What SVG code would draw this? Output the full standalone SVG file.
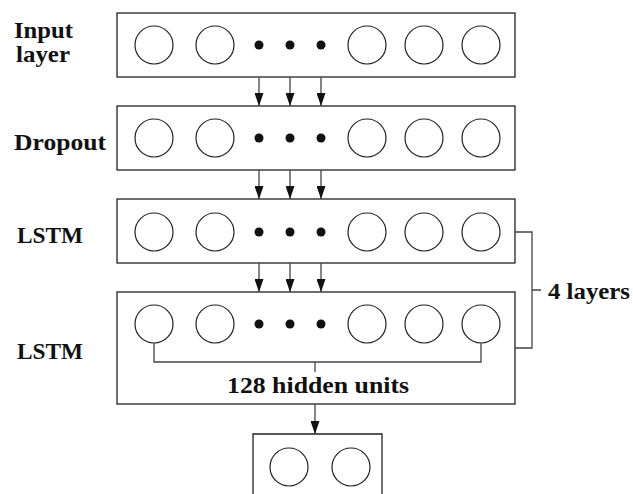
<svg xmlns="http://www.w3.org/2000/svg" width="633" height="494" viewBox="0 0 633 494">
<style>
.box{fill:#fff;stroke:#222;stroke-width:1.3}
.unit{fill:#fff;stroke:#222;stroke-width:1.2}
.dot{fill:#111}
.ln{fill:none;stroke:#444;stroke-width:1.3}
.lbl{font-family:"Liberation Serif",serif;font-weight:bold;font-size:24px;fill:#111}
</style>
<defs>
<marker id="ahv" viewBox="0 0 9 13" refX="4.5" refY="13" markerWidth="9" markerHeight="13" markerUnits="userSpaceOnUse" orient="0">
<path d="M0,0 L9,0 L4.5,13 Z" fill="#111"/>
</marker>
<g id="row">
<circle class="unit" cx="154" cy="0" r="19"/>
<circle class="unit" cx="215" cy="0" r="19"/>
<circle class="dot" cx="259" cy="0" r="4.5"/>
<circle class="dot" cx="290" cy="0" r="4.5"/>
<circle class="dot" cx="321" cy="0" r="4.5"/>
<circle class="unit" cx="367" cy="0" r="19"/>
<circle class="unit" cx="424" cy="0" r="19"/>
<circle class="unit" cx="481" cy="0" r="19"/>
</g>
</defs>
<g id="input-layer">
<rect class="box" x="117" y="13" width="398" height="64"/>
<use href="#row" y="45"/>
<text class="lbl" x="14" y="38" textLength="59" lengthAdjust="spacingAndGlyphs">Input</text>
<text class="lbl" x="16" y="62" textLength="54" lengthAdjust="spacingAndGlyphs">layer</text>
</g>
<g id="dropout">
<rect class="box" x="117" y="106" width="398" height="64"/>
<use href="#row" y="138"/>
<text class="lbl" x="14" y="150" textLength="92" lengthAdjust="spacingAndGlyphs">Dropout</text>
</g>
<g id="lstm1">
<rect class="box" x="117" y="199" width="398" height="64"/>
<use href="#row" y="232"/>
<text class="lbl" x="17" y="243" textLength="66" lengthAdjust="spacingAndGlyphs">LSTM</text>
</g>
<g id="lstm2">
<rect class="box" x="117" y="292" width="398" height="112"/>
<use href="#row" y="324"/>
<text class="lbl" x="17" y="359" textLength="66" lengthAdjust="spacingAndGlyphs">LSTM</text>
<text class="lbl" x="227" y="393" textLength="182" lengthAdjust="spacingAndGlyphs">128 hidden units</text>
</g>
<g id="output">
<path class="box" d="M253,494 V434 H382 V494"/>
<circle class="unit" cx="289" cy="467" r="19"/>
<circle class="unit" cx="351" cy="467" r="19"/>
</g>
<g id="label-4layers">
<text class="lbl" x="548" y="299" textLength="82" lengthAdjust="spacingAndGlyphs">4 layers</text>
</g>
<g id="connectors">
<line class="ln" x1="259" y1="77" x2="259" y2="106" marker-end="url(#ahv)"/>
<line class="ln" x1="290" y1="77" x2="290" y2="106" marker-end="url(#ahv)"/>
<line class="ln" x1="321" y1="77" x2="321" y2="106" marker-end="url(#ahv)"/>
<line class="ln" x1="259" y1="170" x2="259" y2="199" marker-end="url(#ahv)"/>
<line class="ln" x1="290" y1="170" x2="290" y2="199" marker-end="url(#ahv)"/>
<line class="ln" x1="321" y1="170" x2="321" y2="199" marker-end="url(#ahv)"/>
<line class="ln" x1="259" y1="263" x2="259" y2="292" marker-end="url(#ahv)"/>
<line class="ln" x1="290" y1="263" x2="290" y2="292" marker-end="url(#ahv)"/>
<line class="ln" x1="321" y1="263" x2="321" y2="292" marker-end="url(#ahv)"/>
<line class="ln" x1="315" y1="404" x2="315" y2="434" marker-end="url(#ahv)"/>
<path class="ln" d="M154,343 V362 H481 V343 M315,362 V372"/>
<path class="ln" d="M515,232 H532 V348 H515 M532,290 H541"/>
</g>
</svg>
